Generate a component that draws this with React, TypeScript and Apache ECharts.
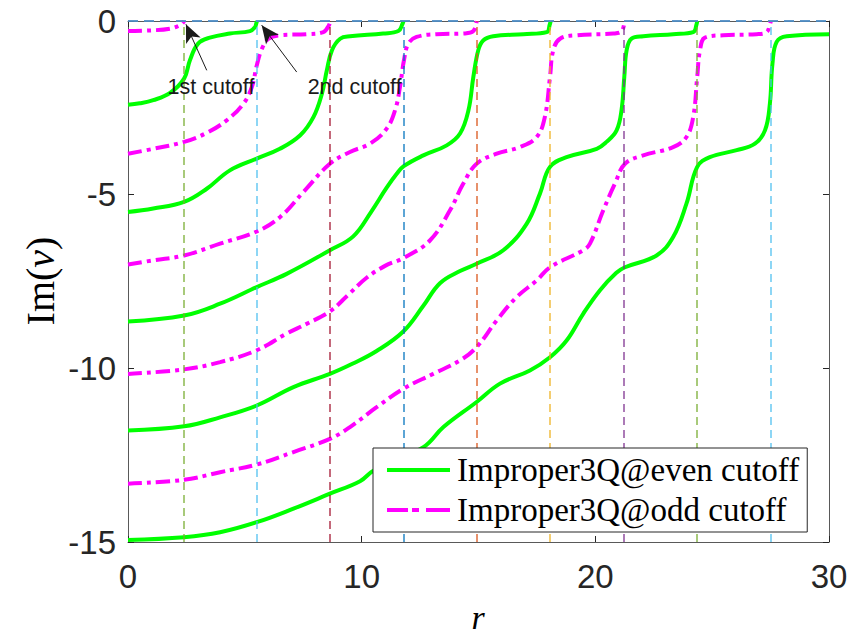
import React, { useEffect, useRef } from 'react';
import * as echarts from 'echarts';

// ---- data ----
const cutoffs = [2.40, 5.52, 8.65, 11.79, 14.93, 18.07, 21.21, 24.35, 27.49];
const cutoffColors = ['#77AC30', '#4DBEEE', '#A2142F', '#0072BD', '#D95319', '#EDB120', '#7E2F8E', '#77AC30', '#4DBEEE'];

const even1 = [[0, -2.41], [0.5, -2.37], [1.08, -2.28], [1.8, -2.07], [2.4, -1.66], [2.65, -1.13], [3.0, -0.65], [3.5, -0.48], [4.36, -0.36], [5.22, -0.29], [5.44, -0.17], [5.49, -0.07], [5.52, 0]];
const even2 = [[0, -5.5], [1.08, -5.4], [2.4, -5.21], [3.37, -4.83], [4.36, -4.3], [5.51, -3.96], [6.5, -3.68], [7.37, -3.29], [7.94, -2.76], [8.3, -2.09], [8.51, -1.42], [8.73, -0.84], [9.08, -0.51], [9.5, -0.44], [10.92, -0.36], [11.57, -0.29], [11.75, -0.08], [11.79, 0]];
const even3 = [[0, -8.65], [2.4, -8.48], [3.94, -8.14], [5.51, -7.66], [6.79, -7.28], [8.64, -6.6], [9.64, -6.2], [10.4, -5.5], [11.07, -4.8], [11.5, -4.4], [11.8, -4.18], [12.64, -3.87], [13.64, -3.58], [14.21, -3.24], [14.57, -2.57], [14.78, -1.61], [14.99, -0.84], [15.2, -0.56], [15.63, -0.44], [16.92, -0.38], [17.92, -0.32], [18.05, -0.1], [18.09, 0]];
const even4 = [[0, -11.79], [2.4, -11.67], [3.94, -11.41], [5.51, -11.07], [7.08, -10.54], [8.64, -10.16], [9.6, -9.87], [10.64, -9.5], [11.78, -8.94], [12.64, -8.2], [13.35, -7.55], [14.21, -7.2], [14.92, -6.99], [16.06, -6.6], [17.06, -5.84], [17.63, -4.97], [18.06, -4.2], [18.77, -3.92], [20.06, -3.68], [20.48, -3.48], [20.91, -3.15], [21.12, -2.57], [21.24, -1.61], [21.34, -0.84], [21.55, -0.51], [22.05, -0.44], [23.33, -0.38], [24.19, -0.32], [24.33, -0.1], [24.36, 0]];
const even5 = [[0, -14.94], [2.4, -14.86], [3.94, -14.72], [5.51, -14.43], [7.08, -14.04], [8.64, -13.61], [9.93, -13.25], [10.5, -12.95], [12.64, -12.27], [13.5, -11.69], [14.92, -10.97], [15.92, -10.44], [17.2, -10.06], [18.06, -9.68], [18.77, -9.2], [19.48, -8.43], [20.2, -7.75], [20.9, -7.25], [21.27, -7.09], [22.62, -6.75], [23.33, -6.22], [23.9, -5.26], [24.36, -4.2], [24.9, -3.92], [26.05, -3.72], [26.83, -3.53], [27.26, -3.15], [27.47, -2.38], [27.58, -1.23], [27.76, -0.6], [28.19, -0.44], [30, -0.38]];

const odd1 = [[0, -0.29], [1.0, -0.27], [1.8, -0.22], [2.2, -0.13], [2.35, -0.05], [2.4, 0]];
const odd2 = [[0, -3.82], [1.08, -3.68], [2.4, -3.48], [3.37, -3.22], [4.22, -2.86], [4.94, -2.38], [5.3, -1.9], [5.51, -1.28], [5.73, -0.8], [6.02, -0.51], [6.5, -0.41], [7.64, -0.38], [8.36, -0.32], [8.6, -0.12], [8.65, 0]];
const odd3 = [[0, -7.01], [1.08, -6.89], [2.4, -6.75], [3.94, -6.41], [5.51, -6.06], [6.5, -5.65], [7.51, -4.92], [8.64, -4.11], [9.5, -3.77], [10.36, -3.53], [11.07, -3.10], [11.43, -2.57], [11.64, -1.90], [11.81, -1.13], [12.0, -0.65], [12.35, -0.46], [13.2, -0.38], [14.35, -0.36], [14.78, -0.29], [14.92, 0]];
const odd4 = [[0, -10.16], [2.4, -10.03], [3.94, -9.82], [5.51, -9.48], [6.79, -9.0], [7.64, -8.72], [8.64, -8.36], [9.4, -7.9], [10.2, -7.4], [11.0, -7.05], [11.8, -6.82], [12.92, -6.32], [13.78, -5.45], [14.35, -4.68], [14.92, -4.11], [15.78, -3.82], [16.77, -3.63], [17.49, -3.34], [17.84, -2.76], [18.06, -1.61], [18.2, -0.84], [18.49, -0.51], [19.2, -0.41], [20.77, -0.36], [21.13, -0.29], [21.24, 0]];
const odd5 = [[0, -13.32], [2.4, -13.21], [3.94, -12.99], [5.51, -12.77], [7.08, -12.41], [8.64, -12.03], [9.5, -11.69], [10.64, -11.12], [11.78, -10.59], [13.06, -10.16], [14.21, -9.77], [14.92, -9.39], [15.78, -8.62], [16.63, -7.95], [17.49, -7.47], [18.06, -7.09], [19.48, -6.6], [19.77, -6.41], [20.34, -5.45], [20.84, -4.68], [21.27, -4.11], [22.05, -3.87], [23.33, -3.63], [23.9, -3.34], [24.19, -2.76], [24.36, -1.61], [24.48, -0.84], [24.69, -0.48], [25.47, -0.41], [26.9, -0.38], [27.33, -0.32], [27.47, -0.1], [27.51, 0]];

const evenCurves = [even1, even2, even3, even4, even5];
const oddCurves = [odd1, odd2, odd3, odd4, odd5];

const EVEN_NAME = 'Improper3Q@even cutoff';
const ODD_NAME = 'Improper3Q@odd cutoff';

// annotation anchors (data coordinates)
const arrows = [
  { from: [3.37, -1.42], to: [2.48, -0.095], text: '1st cutoff', at: [3.55, -1.91] },
  { from: [7.22, -1.47], to: [5.72, -0.12], text: '2nd cutoff', at: [9.7, -1.91] },
];

const AXIS_COLOR = '#262626';
const SANS = 'Liberation Sans, Arial, sans-serif';
const SERIF = 'Liberation Serif, DejaVu Serif, serif';

// legend icons: solid bar and dash-dot pattern
const SOLID_ICON = 'path://M0,0h63v4h-63z';
const DASHDOT_ICON = 'path://M0,0h21v4h-21zM25,0h7v4h-7zM39,0h24v4h-24z';

export default function App() {
  const ref = useRef<HTMLDivElement>(null);
  useEffect(() => {
    if (!ref.current) return;
    const chart = echarts.init(ref.current, undefined, { renderer: 'svg' });

    const axisCommon = {
      type: 'value' as const,
      axisLine: { show: true, onZero: false, lineStyle: { color: '#595959', width: 1 } },
      axisTick: { show: true, inside: true, length: 6, lineStyle: { color: AXIS_COLOR, width: 1 } },
      splitLine: { show: false },
    };

    const series: any[] = [];
    evenCurves.forEach((d) => {
      series.push({
        type: 'line', name: EVEN_NAME, data: d, showSymbol: false, symbol: 'none',
        smooth: 0.4, z: 2,
        lineStyle: { color: '#00FF00', width: 4 }, itemStyle: { color: '#00FF00' },
      });
    });
    oddCurves.forEach((d) => {
      series.push({
        type: 'line', name: ODD_NAME, data: d, showSymbol: false, symbol: 'none',
        smooth: 0.4, z: 2,
        lineStyle: { color: '#FF00FF', width: 4, type: [14, 5, 4, 5] }, itemStyle: { color: '#FF00FF' },
      });
    });

    series.push({
      type: 'line', data: [], silent: true,
      markLine: {
        silent: true, symbol: 'none', animation: false, z: 5,
        label: { show: false },
        data: [
          ...cutoffs.map((c, i) => ({ xAxis: c, lineStyle: { color: cutoffColors[i], type: [8, 5], width: 1.5, opacity: 0.85 } })),
          { yAxis: 0, lineStyle: { color: '#4D8CC4', type: [10, 6], width: 2, opacity: 0.9 } },
        ],
      },
    });

    series.push({
      type: 'line', data: [], silent: true,
      markLine: {
        silent: true, animation: false, z: 6,
        symbol: ['none', 'arrow'], symbolSize: [12, 18],
        label: { show: false },
        lineStyle: { color: '#1a1a1a', width: 1, type: 'solid' },
        data: arrows.map((a) => [{ coord: a.from }, { coord: a.to }]),
      },
      markPoint: {
        silent: true, animation: false, z: 7,
        symbol: 'circle', symbolSize: 0,
        data: arrows.map((a) => ({
          coord: a.at, value: a.text,
          label: { show: true, position: 'inside', formatter: a.text, fontFamily: SANS, fontSize: 21.5, color: '#1a1a1a' },
        })),
      },
    });

    chart.setOption({
      animation: false,
      backgroundColor: '#ffffff',
      grid: { left: 128, right: 26, top: 21, bottom: 97, containLabel: false },
      xAxis: [
        {
          ...axisCommon, position: 'bottom', min: 0, max: 30, interval: 10,
          axisLabel: { fontFamily: SANS, fontSize: 33, color: AXIS_COLOR, margin: 18 },
        },
        { ...axisCommon, position: 'top', min: 0, max: 30, interval: 10, axisLabel: { show: false } },
      ],
      yAxis: [
        {
          ...axisCommon, position: 'left', min: -15, max: 0, interval: 5,
          axisLabel: { fontFamily: SANS, fontSize: 33, color: AXIS_COLOR, margin: 12 },
        },
        { ...axisCommon, position: 'right', min: -15, max: 0, interval: 5, axisLabel: { show: false } },
      ],
      legend: {
        orient: 'vertical', left: 373, top: 448, z: 10,
        padding: [4, 8, 4, 14], itemGap: 4, itemWidth: 63, itemHeight: 4,
        backgroundColor: '#ffffff', borderColor: AXIS_COLOR, borderWidth: 1, borderRadius: 0,
        textStyle: { fontFamily: SERIF, fontSize: 33, color: '#000000', lineHeight: 36, padding: [0, 0, 0, 2] },
        data: [
          { name: EVEN_NAME, icon: SOLID_ICON, itemStyle: { color: '#00FF00' } },
          { name: ODD_NAME, icon: DASHDOT_ICON, itemStyle: { color: '#FF00FF' } },
        ],
        selectedMode: false,
      },
      graphic: [
        {
          type: 'text', x: 478, y: 617,
          style: { text: 'r', fontFamily: SERIF, fontStyle: 'italic', fontSize: 34, fill: '#000', align: 'center', verticalAlign: 'middle' },
        },
        {
          type: 'text', x: 40, y: 281, rotation: Math.PI / 2,
          style: {
            text: '{a|Im(}{b|v}{a|)}', align: 'center', verticalAlign: 'middle',
            rich: {
              a: { fontFamily: SERIF, fontSize: 40, fill: '#000' },
              b: { fontFamily: SERIF, fontSize: 40, fontStyle: 'italic', fill: '#000' },
            },
          },
        },
      ],
      series,
    });
    return () => chart.dispose();
  }, []);
  return <div ref={ref} style={{ position: 'fixed', left: 0, top: 0, width: 855, height: 639 }} />;
}
